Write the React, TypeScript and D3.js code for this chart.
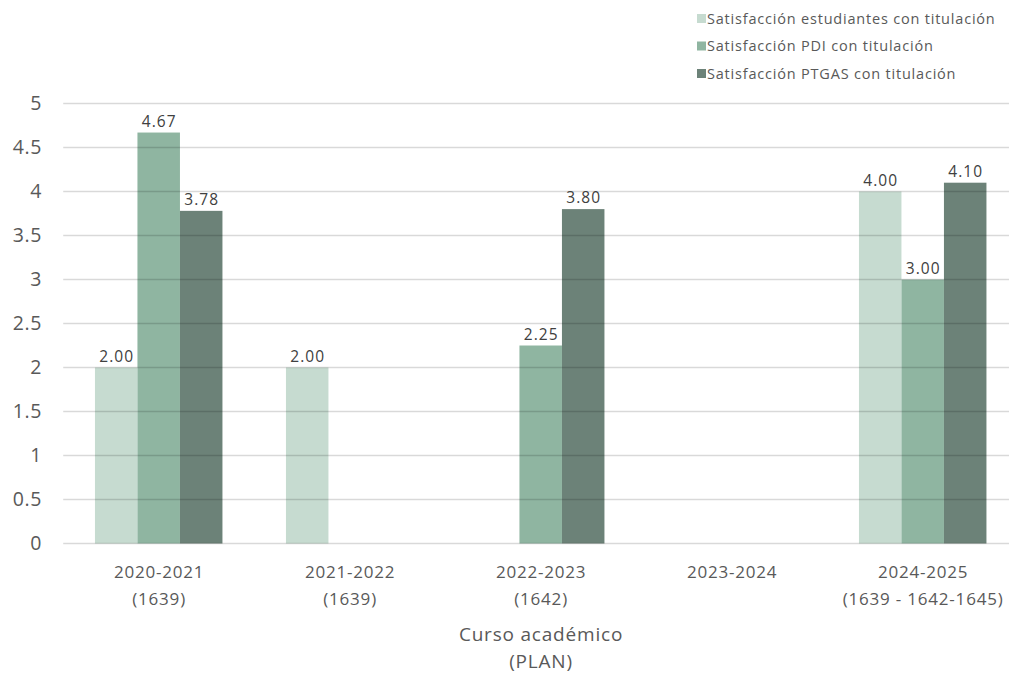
import React from "react";
import * as d3 from "d3";

const categories = ["2020-2021", "2021-2022", "2022-2023", "2023-2024", "2024-2025"];
const categorySubLabels = ["(1639)", "(1639)", "(1642)", "", "(1639 - 1642-1645)"];
const seriesNames = [
  "Satisfacción estudiantes con titulación",
  "Satisfacción PDI con titulación",
  "Satisfacción PTGAS con titulación",
];
const estudiantes: (number | null)[] = [2.0, 2.0, null, null, 4.0];
const pdi: (number | null)[] = [4.67, null, 2.25, null, 3.0];
const ptgas: (number | null)[] = [3.78, null, 3.8, null, 4.1];
const yTicks = [0, 0.5, 1, 1.5, 2, 2.5, 3, 3.5, 4, 4.5, 5];
const colors = ["#c6dbd0", "#8fb5a1", "#6c8278"];

const W = 1009;
const H = 675;
const FONT = "'Open Sans', 'Liberation Sans', sans-serif";

export default function App() {
  const seriesValues = [estudiantes, pdi, ptgas];
  const x0 = d3.scaleBand<string>().domain(categories).range([63.2, 1018.2]).paddingInner(0).paddingOuter(0);
  const step = x0.bandwidth();
  const gap = step * 0.3325;
  const x1 = d3.scaleBand<string>().domain(seriesNames).range([gap / 2, step - gap / 2]).padding(0);
  const y = d3.scaleLinear().domain([0, 5]).range([543.5, 103.5]);

  return (
    <svg width={W} height={H} style={{ position: "absolute", left: 0, top: 0, background: "#fff" }} fontFamily={FONT}>
      {seriesValues.map((vals, si) =>
        vals.map((v, ci) =>
          v == null ? null : (
            <rect
              key={`b-${si}-${ci}`}
              x={(x0(categories[ci]) as number) + (x1(seriesNames[si]) as number)}
              y={y(v)}
              width={x1.bandwidth()}
              height={y(0) - y(v)}
              fill={colors[si]}
            />
          )
        )
      )}
      {yTicks.map((t) => (
        <line key={`g-${t}`} x1={63.2} x2={1018.2} y1={y(t)} y2={y(t)} stroke="rgba(0,0,0,0.15)" strokeWidth={1.5} />
      ))}
      {yTicks.map((t) => (
        <text key={`yt-${t}`} x={42} y={y(t) + 6.5} textAnchor="end" fontSize={19.5} letterSpacing={0.6} fill="#595959">
          {String(t)}
        </text>
      ))}
      {seriesValues.map((vals, si) =>
        vals.map((v, ci) =>
          v == null ? null : (
            <text
              key={`l-${si}-${ci}`}
              x={(x0(categories[ci]) as number) + (x1(seriesNames[si]) as number) + x1.bandwidth() / 2 + 0.5}
              y={y(v) - 6}
              textAnchor="middle"
              fontSize={15.5}
              letterSpacing={1}
              fill="#404040"
            >
              {v.toFixed(2)}
            </text>
          )
        )
      )}
      {categories.map((c, ci) => (
        <g key={`xc-${c}`}>
          <text x={(x0(c) as number) + step / 2 + 0.4} y={578} textAnchor="middle" fontSize={17} letterSpacing={0.8} fill="#595959">
            {c}
          </text>
          {categorySubLabels[ci] ? (
            <text x={(x0(c) as number) + step / 2 + 0.4} y={605} textAnchor="middle" fontSize={17} letterSpacing={0.8} fill="#595959">
              {categorySubLabels[ci]}
            </text>
          ) : null}
        </g>
      ))}
      <text x={541} y={641} textAnchor="middle" fontSize={19} letterSpacing={0.8} fill="#595959">Curso académico</text>
      <text x={541} y={668} textAnchor="middle" fontSize={19} letterSpacing={0.8} fill="#595959">(PLAN)</text>
      {seriesNames.map((s, si) => (
        <g key={`lg-${si}`}>
          <rect x={697} y={14 + si * 27.5} width={9} height={9} fill={colors[si]} />
          <text x={707} y={23.5 + si * 27.5} fontSize={14.5} letterSpacing={0.8} fill="#595959">
            {s}
          </text>
        </g>
      ))}
    </svg>
  );
}
